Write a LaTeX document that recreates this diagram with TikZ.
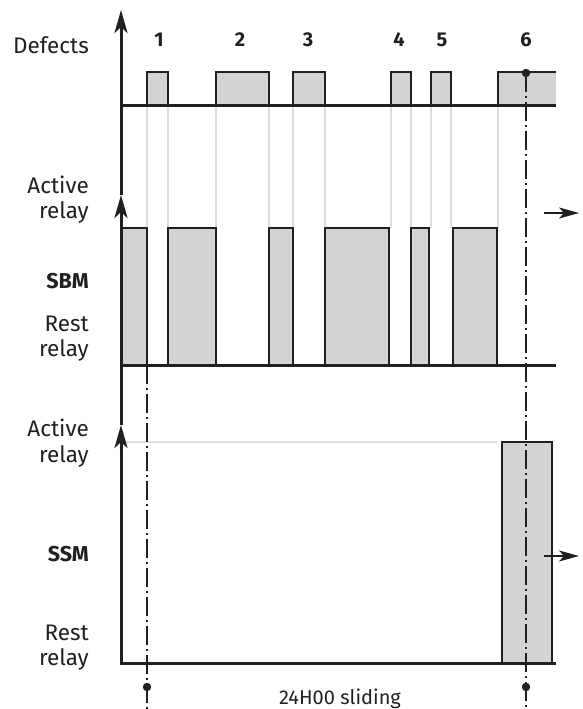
\documentclass[tikz,border=0pt]{standalone}
\usepackage{fontspec}
\setmainfont{Fira Sans}
\usetikzlibrary{arrows.meta}
\definecolor{fillg}{HTML}{D1D3D4}
\definecolor{lineg}{HTML}{DCDDDE}
\definecolor{ink}{HTML}{231F20}
\begin{document}
\begin{tikzpicture}[x=1pt,y=-1pt,
  lbl/.style={font=\fontsize{22.5}{26}\selectfont, text=ink, inner sep=0pt, anchor=base east},
  boldlbl/.style={lbl, font=\fontsize{21.5}{26}\selectfont\bfseries},
  num/.style={font=\fontsize{20}{24}\selectfont\bfseries, text=ink, inner sep=0pt, anchor=base},
  thickaxis/.style={line width=3pt, draw=ink},
  axarrow/.style={-{Stealth[length=23pt,width=13pt,inset=6pt]}},
  outarrow/.style={line width=1.6pt, draw=ink, -{Stealth[length=20pt,width=11pt,inset=5pt]}},
  pulse/.style={fill=fillg, draw=ink, line width=1.2pt},
  guide/.style={draw=lineg, line width=2pt},
  dashdotline/.style={draw=ink, line width=2pt, dash pattern=on 19pt off 4pt on 2pt off 4pt},
  dot/.style={fill=ink}]
\useasboundingbox (0,0) rectangle (583,709);

% guide lines (light gray)
\foreach \gx in {147,168,216,269,293,325,391,411,431,451,498}
  \draw[guide] (\gx,105) -- (\gx,228);
\draw[guide] (121,442) -- (497,442);

% defect pulses
\filldraw[pulse] (147,105) -- (147,72) -- (168,72) -- (168,105);
\filldraw[pulse] (216,105) -- (216,72) -- (269,72) -- (269,105);
\filldraw[pulse] (293,105) -- (293,72) -- (325,72) -- (325,105);
\filldraw[pulse] (391,105) -- (391,72) -- (411,72) -- (411,105);
\filldraw[pulse] (431,105) -- (431,72) -- (451,72) -- (451,105);
\fill[fillg] (498,72) rectangle (556,105);
\draw[pulse, fill=none] (498,105) -- (498,72) -- (556,72);

% SBM blocks
\filldraw[pulse] (121,228) rectangle (147,365);
\filldraw[pulse] (168,228) rectangle (216,365);
\filldraw[pulse] (269,228) rectangle (293,365);
\filldraw[pulse] (325,228) rectangle (389,365);
\filldraw[pulse] (411,228) rectangle (429,365);
\filldraw[pulse] (453,228) rectangle (497,365);

% SSM block
\filldraw[pulse] (502,442) rectangle (552,663);

% axes
\coordinate (o3) at (121,663);
\coordinate (a3) at (121,425);
\coordinate (a2) at (121,195);
\coordinate (a1) at (121,10);
\draw[thickaxis, axarrow] (556,663) -- (o3) -- (a3);
\draw[thickaxis, axarrow] (a3) -- (a2);
\draw[thickaxis, axarrow] (a2) -- (a1);
\draw[thickaxis] (121,365) -- (556,365);
\draw[thickaxis] (121,105) -- (556,105);

% dash-dot markers
\coordinate (d1top) at (147,365);
\coordinate (d1bot) at (147,709);
\coordinate (d6top) at (526,73);
\coordinate (d6bot) at (526,709);
\draw[dashdotline] (d1top) -- (d1bot);
\draw[dashdotline] (d6top) -- (d6bot);
\fill[dot] (d6top) circle (4.2pt);
\fill[dot] (147,687) circle (4.2pt);
\fill[dot] (526,687) circle (4.2pt);

% output arrows
\coordinate (r1s) at (544,213);
\coordinate (r1e) at (579,213);
\coordinate (r2s) at (544,556);
\coordinate (r2e) at (579,556);
\draw[outarrow] (r1s) -- (r1e);
\draw[outarrow] (r2s) -- (r2e);

% labels
\node[lbl] (tdef) at (89,53) {Defects};
\node[lbl] (tact1) at (89,193) {Active};
\node[lbl] (trel1) at (89,218) {relay};
\node[boldlbl] (tsbm) at (89,288) {SBM};
\node[lbl] (trest1) at (89,331) {Rest};
\node[lbl] (trel2) at (89,356) {relay};
\node[lbl] (tact2) at (89,436) {Active};
\node[lbl] (trel3) at (89,462) {relay};
\node[boldlbl] (tssm) at (89,561) {SSM};
\node[lbl] (trest2) at (89,640) {Rest};
\node[lbl] (trel4) at (89,665) {relay};

\node[num] (n1) at (159,47) {1};
\node[num] (n2) at (240,47) {2};
\node[num] (n3) at (308,47) {3};
\node[num] (n4) at (399,47) {4};
\node[num] (n5) at (442,47) {5};
\node[num] (n6) at (526,47) {6};

\node[lbl, anchor=base, font=\fontsize{20}{24}\selectfont] (tslide) at (340,704) {24H00 sliding};
\end{tikzpicture}
\end{document}
